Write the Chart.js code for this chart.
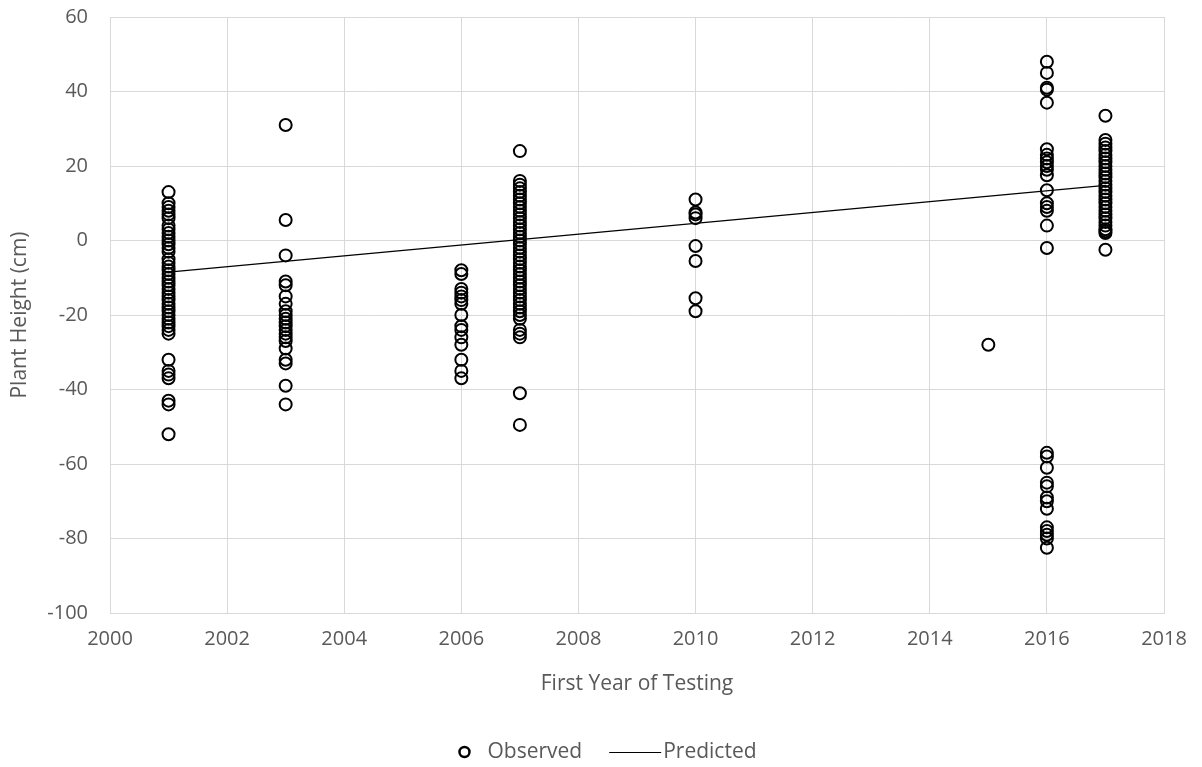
<!DOCTYPE html>
<html>
<head>
<meta charset="utf-8">
<title>Plant Height by First Year of Testing</title>
<script src="https://cdn.jsdelivr.net/npm/chart.js@4/dist/chart.umd.min.js"></script>
<style>
  html, body { margin: 0; padding: 0; background: #ffffff; }
  #wrap { width: 1202px; height: 767px; }
</style>
</head>
<body>
<div id="wrap"><canvas id="chart" width="1202" height="767"></canvas></div>
<script>
// Observed plant height (cm) grouped by first year of testing
const years = [2001, 2003, 2006, 2007, 2010, 2015, 2016, 2017];
const heights2001 = [13, 10, 9, 8, 7, 6, 4, 3, 2, 1, 0, -1, -2, -3, -5, -6, -7, -8, -9, -10, -11, -12, -13, -14, -15, -16, -17, -18, -19, -20, -21, -22, -23, -24, -25, -32, -35, -36, -37, -43, -44, -52];
const heights2003 = [31, 5.5, -4, -11, -12, -15, -17, -19, -20, -21, -22, -23, -24, -25, -26, -27, -29, -32, -33, -39, -44];
const heights2006 = [-8, -9, -13, -14, -15, -16, -17, -20, -23, -24, -26, -28, -32, -35, -37];
const heights2007 = [24, 16, 15, 14, 13, 12, 11, 10, 9, 8, 7, 6, 5, 4, 3, 2, 1, 0, -1, -2, -3, -4, -5, -6, -7, -8, -9, -10, -11, -12, -13, -14, -15, -16, -17, -18, -19, -20, -21, -24, -25, -26, -41, -49.5];
const heights2010 = [11, 7.5, 7, 6, -1.5, -5.5, -15.5, -19];
const heights2015 = [-28];
const heights2016 = [48, 45, 41, 40.5, 37, 24.5, 23, 22, 21, 20, 19, 17.5, 13.5, 10, 9, 8, 4, -2, -57, -58, -61, -65, -66, -69, -70, -72, -77, -78, -79, -80, -82.5];
const heights2017 = [33.5, 27, 26, 25, 24, 23, 22, 21, 20, 19, 18, 17, 16, 15, 14, 13, 12, 11, 10, 9, 8, 7, 6, 5, 4, 3, 2.5, 2, -2.5];
const heightsByYear = [heights2001, heights2003, heights2006, heights2007, heights2010, heights2015, heights2016, heights2017];

// Fitted trend (start and end of the regression line)
const predictedYears = [2001, 2017];
const predictedHeights = [-8.5, 14.8];

// Axis ticks
const xTicks = [2000, 2002, 2004, 2006, 2008, 2010, 2012, 2014, 2016, 2018];
const yTicks = [-100, -80, -60, -40, -20, 0, 20, 40, 60];

const seriesNames = ['Observed', 'Predicted'];
const axisTitles = { x: 'First Year of Testing', y: 'Plant Height (cm)' };

const observedPoints = [];
years.forEach((yr, i) => heightsByYear[i].forEach(v => observedPoints.push({ x: yr, y: v })));
const predictedPoints = predictedYears.map((yr, i) => ({ x: yr, y: predictedHeights[i] }));

const FONT = '"Open Sans", "Liberation Sans", sans-serif';
const TEXT = '#595959';
const GRID = '#d9d9d9';

// Legend drawn centred beneath the plot
const bottomLegend = {
  id: 'bottomLegend',
  afterDraw(chart) {
    const ctx = chart.ctx;
    ctx.save();
    ctx.font = '21px ' + FONT;
    ctx.textBaseline = 'middle';
    const y = 752;
    const markerW = 14, gap1 = 16, gapMid = 27, lineW = 52, gap2 = 2;
    const w1 = ctx.measureText(seriesNames[0]).width;
    const w2 = ctx.measureText(seriesNames[1]).width;
    const total = markerW + gap1 + w1 + gapMid + lineW + gap2 + w2;
    let x = (chart.width - total) / 2 + 6;
    ctx.strokeStyle = '#000';
    ctx.lineWidth = 2.5;
    ctx.beginPath();
    ctx.arc(x + markerW / 2, y, 5, 0, Math.PI * 2);
    ctx.stroke();
    x += markerW + gap1;
    ctx.fillStyle = TEXT;
    ctx.fillText(seriesNames[0], x, y);
    x += w1 + gapMid;
    ctx.lineWidth = 1;
    ctx.beginPath();
    ctx.moveTo(x, y + 0.5);
    ctx.lineTo(x + lineW, y + 0.5);
    ctx.stroke();
    x += lineW + gap2;
    ctx.fillText(seriesNames[1], x, y);
    ctx.restore();
  }
};

new Chart(document.getElementById('chart'), {
  type: 'scatter',
  data: {
    datasets: [
      {
        label: seriesNames[0],
        data: observedPoints,
        pointStyle: 'circle',
        pointRadius: 6,
        pointHoverRadius: 6,
        pointBorderWidth: 2,
        borderColor: '#000000',
        backgroundColor: 'rgba(0,0,0,0)',
        showLine: false
      },
      {
        label: seriesNames[1],
        type: 'line',
        data: predictedPoints,
        borderColor: '#000000',
        borderWidth: 1.2,
        pointRadius: 0,
        fill: false
      }
    ]
  },
  options: {
    responsive: false,
    devicePixelRatio: 1,
    animation: false,
    events: [],
    layout: { padding: { left: 0, right: 38, top: 17, bottom: 64 } },
    plugins: { legend: { display: false }, tooltip: { enabled: false } },
    scales: {
      x: {
        type: 'linear',
        min: xTicks[0],
        max: xTicks[xTicks.length - 1],
        afterBuildTicks(scale) { scale.ticks = xTicks.map(v => ({ value: v })); },
        afterFit(scale) { scale.height = 90; scale.paddingLeft = 0; scale.paddingRight = 0; },
        grid: { color: GRID, lineWidth: 1, drawTicks: false },
        border: { color: GRID, width: 1 },
        ticks: {
          color: TEXT,
          font: { family: FONT, size: 20 },
          padding: 14,
          maxRotation: 0,
          callback: v => String(v)
        },
        title: {
          display: true,
          text: axisTitles.x,
          color: TEXT,
          font: { family: FONT, size: 21 },
          padding: { top: 0, bottom: 6 }
        }
      },
      y: {
        type: 'linear',
        min: yTicks[0],
        max: yTicks[yTicks.length - 1],
        afterBuildTicks(scale) { scale.ticks = yTicks.map(v => ({ value: v })); },
        afterFit(scale) { scale.width = 110; scale.paddingTop = 0; scale.paddingBottom = 0; },
        grid: { color: GRID, lineWidth: 1, drawTicks: false },
        border: { color: GRID, width: 1 },
        ticks: {
          color: TEXT,
          font: { family: FONT, size: 20 },
          padding: 22,
          callback: v => String(v)
        },
        title: {
          display: true,
          text: axisTitles.y,
          color: TEXT,
          font: { family: FONT, size: 21 },
          padding: { top: 7, bottom: 0 }
        }
      }
    }
  },
  plugins: [bottomLegend]
});
</script>
</body>
</html>
